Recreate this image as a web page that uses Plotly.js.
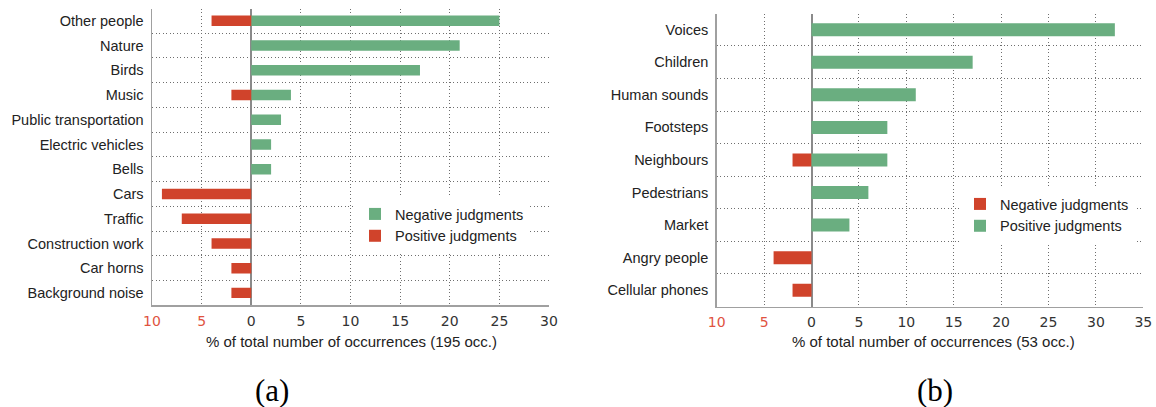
<!DOCTYPE html>
<html>
<head>
<meta charset="utf-8">
<script src="https://cdn.plot.ly/plotly-3.0.1.min.js"></script>
<style>html,body{margin:0;padding:0;background:#fff;}#chart{width:1156px;height:407px;}</style>
</head>
<body>
<div id="chart"></div>
<script>
// ---------- data: panel (a) ----------
const catsA = ['Other people','Nature','Birds','Music','Public transportation','Electric vehicles','Bells','Cars','Traffic','Construction work','Car horns','Background noise'];
const negJudgA = [25, 21, 17, 4, 3, 2, 2, null, null, null, null, null];   // green, to the right
const posJudgA = [4, null, null, 2, null, null, null, 9, 7, 4, 2, 2];      // red, to the left
const tickValsA = [-10, -5, 0, 5, 10, 15, 20, 25, 30];
const tickTextA = ['10', '5', '0', '5', '10', '15', '20', '25', '30'];
const titleA = '% of total number of occurrences (195 occ.)';

// ---------- data: panel (b) ----------
const catsB = ['Voices','Children','Human sounds','Footsteps','Neighbours','Pedestrians','Market','Angry people','Cellular phones'];
const negJudgB = [null, null, null, null, 2, null, null, 4, 2];            // red, to the left
const posJudgB = [32, 17, 11, 8, 8, 6, 4, null, null];                      // green, to the right
const tickValsB = [-10, -5, 0, 5, 10, 15, 20, 25, 30, 35];
const tickTextB = ['10', '5', '0', '5', '10', '15', '20', '25', '30', '35'];
const titleB = '% of total number of occurrences (53 occ.)';

const GREEN = '#6aae80';
const RED = '#d0432b';
const RED_TXT = '#e0533f';
const W = 1156, H = 407;
const px = v => v / W;
const py = v => (H - v) / H;
const left = arr => arr.map(v => v == null ? null : -v);
const colorTicks = (vals, txt) => txt.map((t, i) => vals[i] < 0 ? '<span style="color:' + RED_TXT + '">' + t + '</span>' : t);

const traces = [
  {type:'bar', orientation:'h', y:catsA, x:negJudgA, name:'Negative judgments', marker:{color:GREEN, line:{width:0}}, width:0.42, xaxis:'x', yaxis:'y', legend:'legend', legendrank:1},
  {type:'bar', orientation:'h', y:catsA, x:left(posJudgA), name:'Positive judgments', marker:{color:RED, line:{width:0}}, width:0.42, xaxis:'x', yaxis:'y', legend:'legend', legendrank:2},
  {type:'bar', orientation:'h', y:catsB, x:left(negJudgB), name:'Negative judgments', marker:{color:RED, line:{width:0}}, width:0.4, xaxis:'x2', yaxis:'y2', legend:'legend2', legendrank:1},
  {type:'bar', orientation:'h', y:catsB, x:posJudgB, name:'Positive judgments', marker:{color:GREEN, line:{width:0}}, width:0.4, xaxis:'x2', yaxis:'y2', legend:'legend2', legendrank:2}
];

const xCommon = {
  showgrid:true, griddash:'1px,2.5px', gridcolor:'#6e6e6e', gridwidth:1,
  zeroline:true, zerolinecolor:'#8a8a8a', zerolinewidth:2,
  showline:true, linecolor:'#a0a0a0', linewidth:1.5,
  ticks:'', ticklabelstandoff:2,
  tickfont:{family:'DejaVu Sans', size:14, color:'#333'},
  tickmode:'array', fixedrange:true
};
const yCommon = {
  type:'category', tickson:'boundaries',
  showgrid:true, griddash:'1px,2.5px', gridcolor:'#6e6e6e', gridwidth:1,
  zeroline:false, showline:true, linecolor:'#a0a0a0', linewidth:1.5,
  ticks:'', ticklabelstandoff:4,
  tickfont:{family:'Liberation Sans, Arial, sans-serif', size:14.5, color:'#222'}
};

const layout = {
  width:W, height:H, margin:{l:0, r:0, t:0, b:0},
  paper_bgcolor:'#fff', plot_bgcolor:'#fff',
  barmode:'overlay', showlegend:true,
  xaxis:Object.assign({}, xCommon, {domain:[px(152), px(549)], range:[-10, 30], anchor:'y',
    tickvals:tickValsA, ticktext:colorTicks(tickValsA, tickTextA)}),
  yaxis:Object.assign({}, yCommon, {domain:[py(305.3), py(8.6)], anchor:'x', range:[catsA.length - 0.5, -0.49]}),
  xaxis2:Object.assign({}, xCommon, {domain:[px(716.7), px(1143.3)], range:[-10, 35], anchor:'y2',
    tickvals:tickValsB, ticktext:colorTicks(tickValsB, tickTextB)}),
  yaxis2:Object.assign({}, yCommon, {domain:[py(306.5), py(13.75)], anchor:'x2', range:[catsB.length - 0.5, -0.49]}),
  legend:{x:px(355), y:py(198), xanchor:'left', yanchor:'top', bgcolor:'#fff', borderwidth:0,
    font:{family:'Liberation Sans, Arial, sans-serif', size:14.5, color:'#222'}, itemwidth:30, tracegroupgap:0},
  legend2:{x:px(960), y:py(188), xanchor:'left', yanchor:'top', bgcolor:'#fff', borderwidth:0,
    font:{family:'Liberation Sans, Arial, sans-serif', size:14.5, color:'#222'}, itemwidth:30, tracegroupgap:0},
  annotations:[
    {text:titleA, xref:'paper', yref:'paper', x:px(351), y:py(341), xanchor:'center', yanchor:'middle', showarrow:false,
      font:{family:'Liberation Sans, Arial, sans-serif', size:15, color:'#222'}},
    {text:titleB, xref:'paper', yref:'paper', x:px(933), y:py(341), xanchor:'center', yanchor:'middle', showarrow:false,
      font:{family:'Liberation Sans, Arial, sans-serif', size:15, color:'#222'}},
    {text:'(a)', xref:'paper', yref:'paper', x:px(272), y:py(390), xanchor:'center', yanchor:'middle', showarrow:false,
      font:{family:'Liberation Serif, serif', size:31, color:'#000'}},
    {text:'(b)', xref:'paper', yref:'paper', x:px(935), y:py(390), xanchor:'center', yanchor:'middle', showarrow:false,
      font:{family:'Liberation Serif, serif', size:31, color:'#000'}}
  ]
};

Plotly.newPlot('chart', traces, layout, {staticPlot:true, displayModeBar:false});
</script>
</body>
</html>
